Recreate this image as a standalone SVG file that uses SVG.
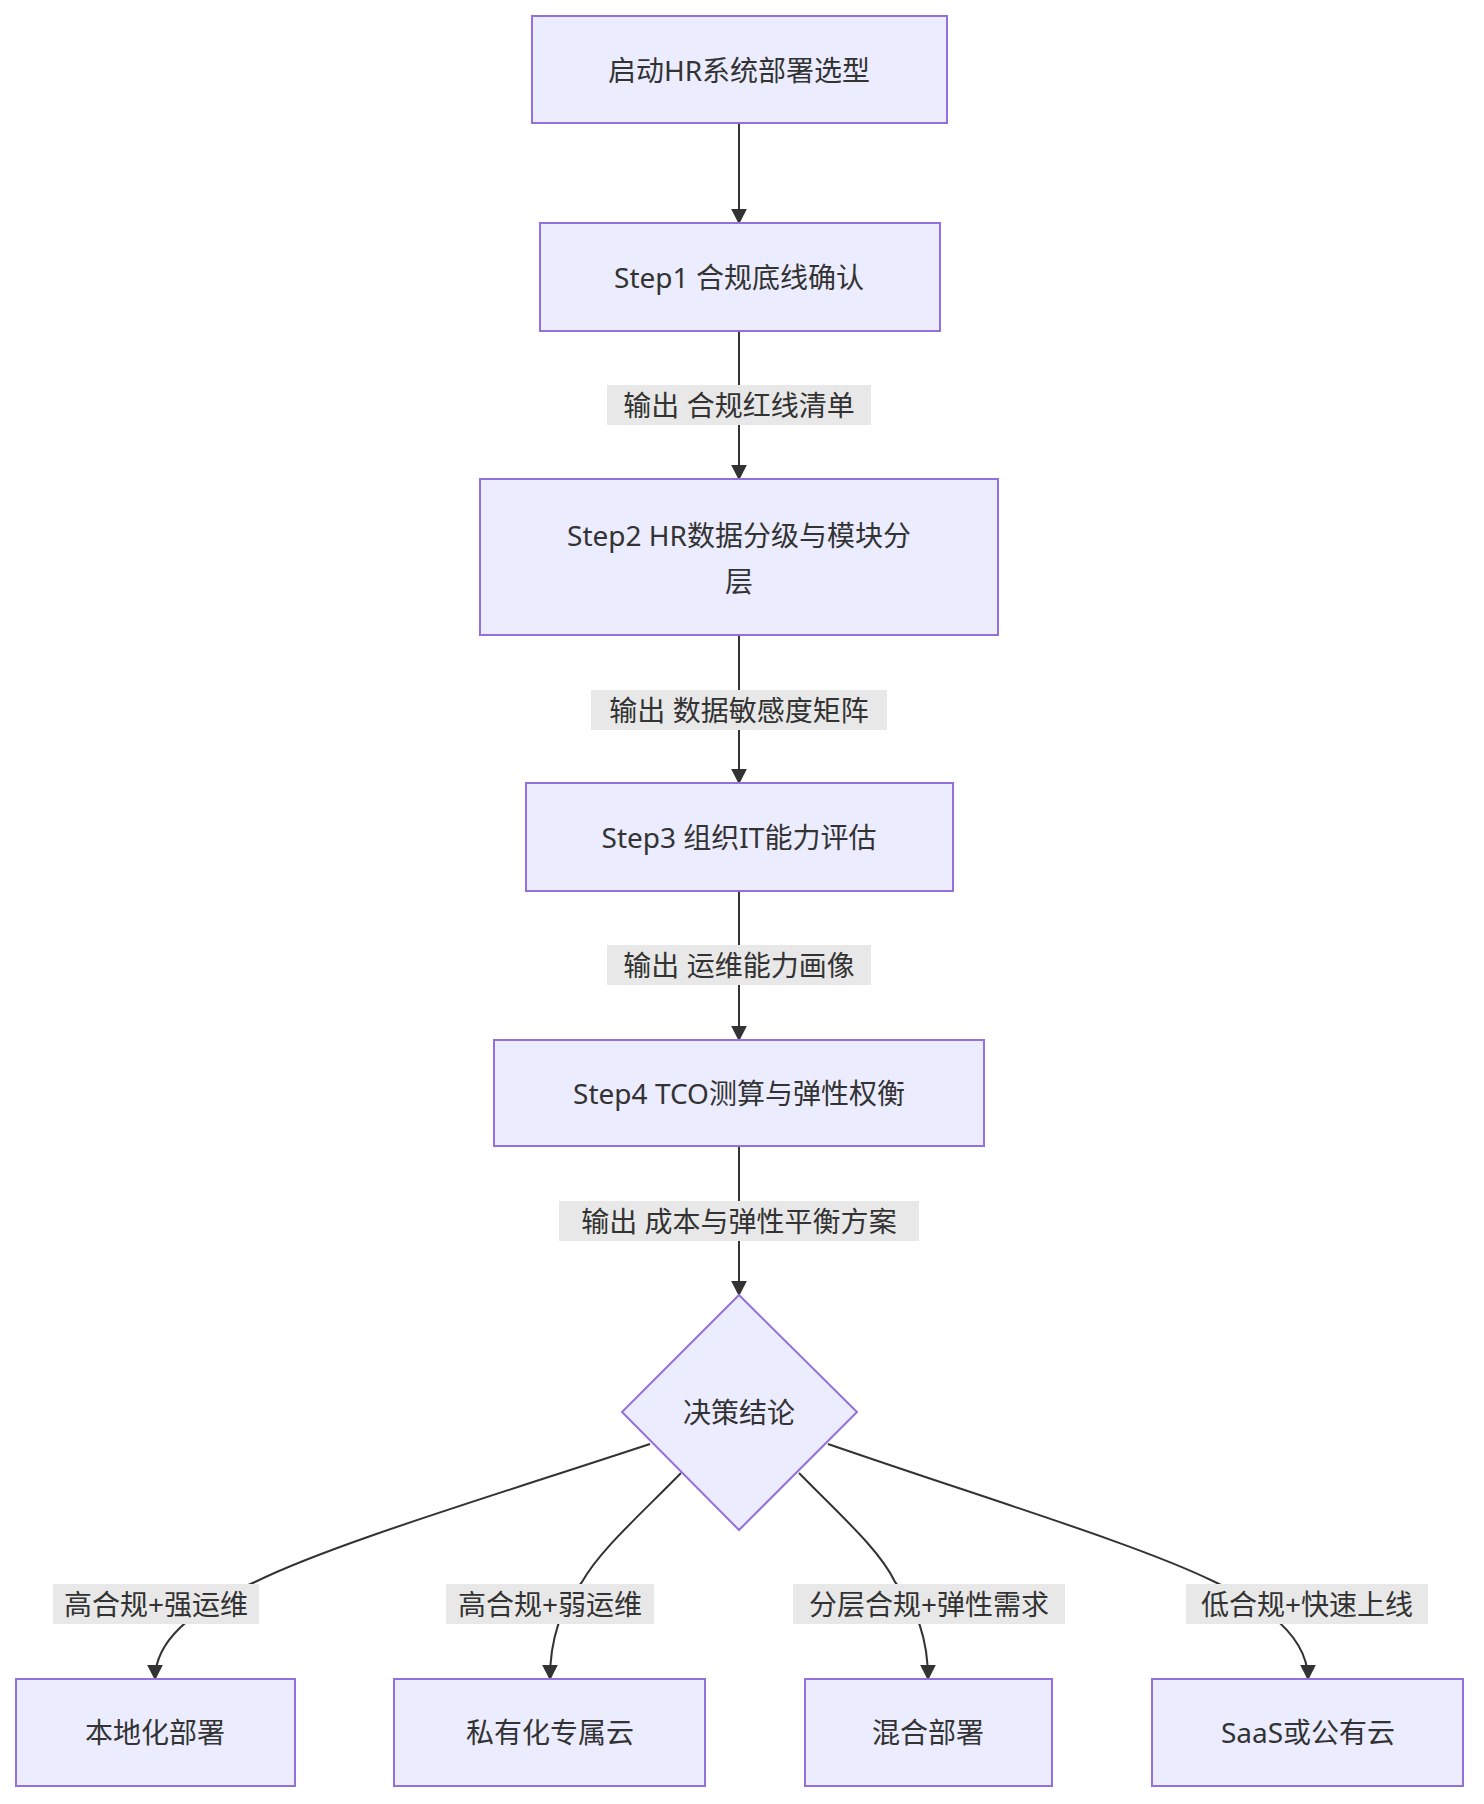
<svg xmlns="http://www.w3.org/2000/svg" width="1484" height="1804" viewBox="0 0 1484 1804">
<style>
.n{fill:#ECECFF;stroke:#9370DB;stroke-width:2}
text{font-family:"Noto Sans","Noto Sans CJK SC",sans-serif;font-size:28px;fill:#333;text-anchor:middle;dominant-baseline:central}
.lb{fill:#e8e8e8}
.e{fill:none;stroke:#333;stroke-width:2;marker-end:url(#a)}
</style>
<defs><marker id="a" viewBox="0 0 10 10" refX="9" refY="5" markerWidth="8" markerHeight="8" orient="auto"><path d="M0,0L10,5L0,10z" fill="#333"/></marker></defs>
<g id="edges">
<path class="e" d="M739,123V223"/>
<path class="e" d="M739,331V479"/>
<path class="e" d="M739,635V783"/>
<path class="e" d="M739,891V1040"/>
<path class="e" d="M739,1146V1295"/>
<path class="e" d="M650,1444 C480,1500 330,1545 255,1582 Q155,1625 155,1679"/>
<path class="e" d="M681,1473 C640,1515 600,1550 582,1582 Q550,1620 550,1679"/>
<path class="e" d="M799,1473 C840,1515 880,1550 895,1582 Q928,1620 928,1679"/>
<path class="e" d="M828,1444 C990,1500 1140,1545 1215,1582 Q1308,1625 1308,1679"/>
<rect class="lb" x="607" y="385" width="264" height="40"/><text x="739" y="405">输出 合规红线清单</text>
<rect class="lb" x="591" y="690" width="296" height="40"/><text x="739" y="710">输出 数据敏感度矩阵</text>
<rect class="lb" x="607" y="945" width="264" height="40"/><text x="739" y="965">输出 运维能力画像</text>
<rect class="lb" x="559" y="1201" width="360" height="40"/><text x="739" y="1221">输出 成本与弹性平衡方案</text>
<rect class="lb" x="53" y="1584" width="206" height="40"/><text x="156" y="1604">高合规+强运维</text>
<rect class="lb" x="446" y="1584" width="208" height="40"/><text x="550" y="1604">高合规+弱运维</text>
<rect class="lb" x="793" y="1584" width="272" height="40"/><text x="929" y="1604">分层合规+弹性需求</text>
<rect class="lb" x="1186" y="1584" width="242" height="40"/><text x="1307" y="1604">低合规+快速上线</text>
</g>
<g id="start"><rect class="n" x="532" y="16" width="415" height="107"/><text x="739" y="70">启动HR系统部署选型</text></g>
<g id="s1"><rect class="n" x="540" y="223" width="400" height="108"/><text x="739" y="277">Step1 合规底线确认</text></g>
<g id="s2"><rect class="n" x="480" y="479" width="518" height="156"/><text x="739" y="535">Step2 HR数据分级与模块分</text><text x="739" y="581">层</text></g>
<g id="s3"><rect class="n" x="526" y="783" width="427" height="108"/><text x="739" y="837">Step3 组织IT能力评估</text></g>
<g id="s4"><rect class="n" x="494" y="1040" width="490" height="106"/><text x="739" y="1093">Step4 TCO测算与弹性权衡</text></g>
<g id="d"><polygon class="n" points="739,1295 857,1412 739,1530 622,1412"/><text x="739" y="1412">决策结论</text></g>
<g id="o1"><rect class="n" x="16" y="1679" width="279" height="107"/><text x="155" y="1732">本地化部署</text></g>
<g id="o2"><rect class="n" x="394" y="1679" width="311" height="107"/><text x="550" y="1732">私有化专属云</text></g>
<g id="o3"><rect class="n" x="805" y="1679" width="247" height="107"/><text x="928" y="1732">混合部署</text></g>
<g id="o4"><rect class="n" x="1152" y="1679" width="311" height="107"/><text x="1308" y="1732">SaaS或公有云</text></g>
</svg>
